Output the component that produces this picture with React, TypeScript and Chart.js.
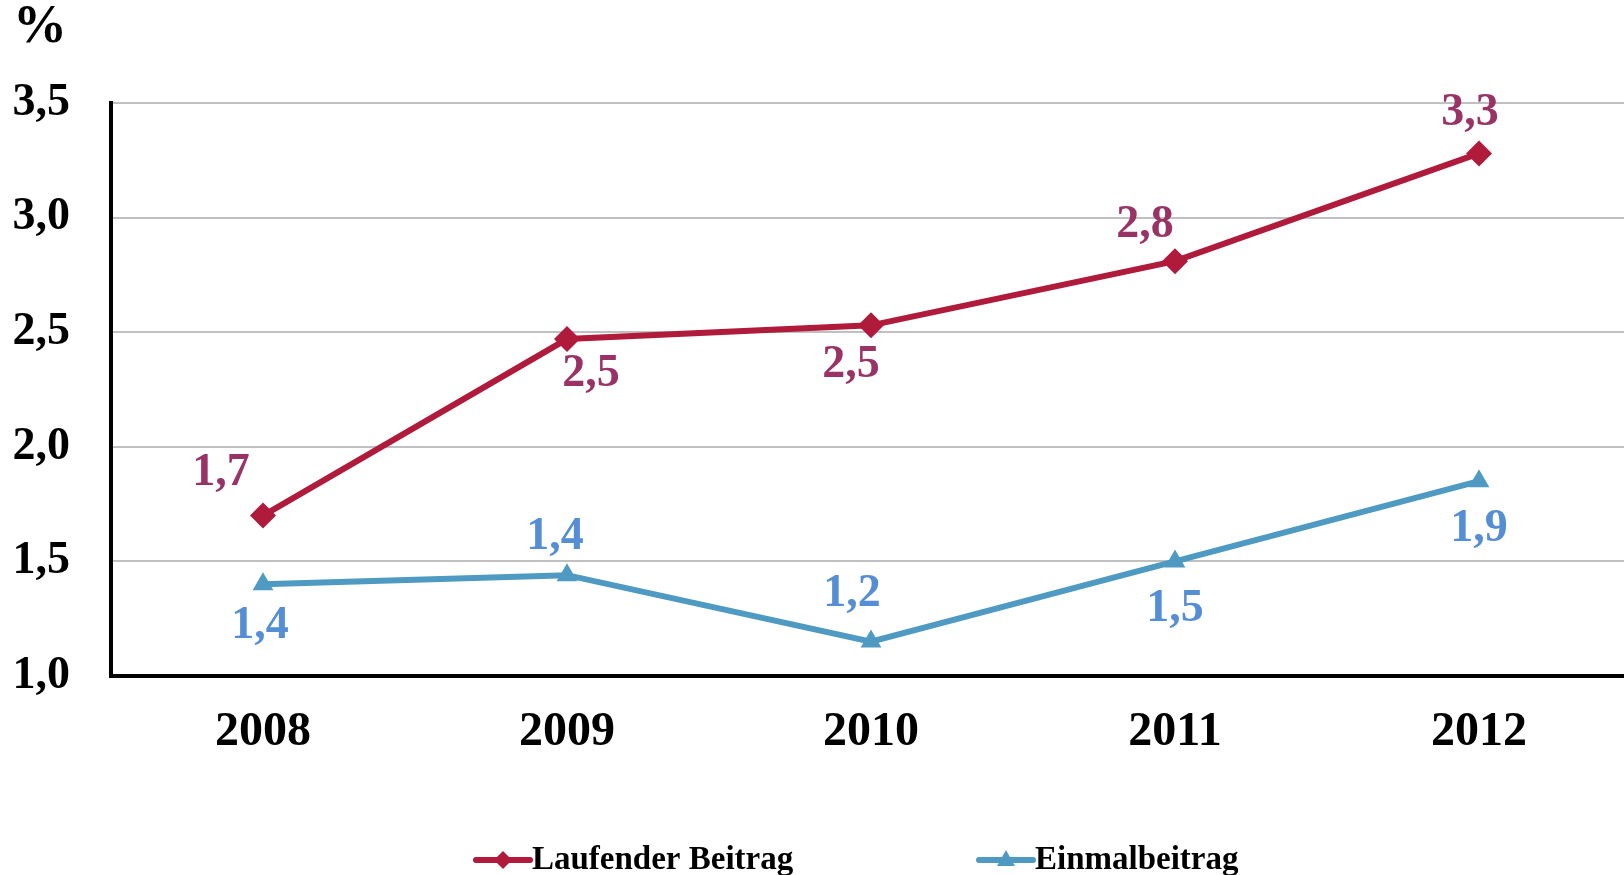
import React, { useEffect, useRef } from "react";
import { Chart, registerables } from "chart.js";

Chart.register(...registerables);

const years = ["2008", "2009", "2010", "2011", "2012"];
const laufenderValues = [1.7, 2.47, 2.53, 2.81, 3.28];
const einmalValues = [1.4, 1.44, 1.15, 1.5, 1.85];
const laufenderLabels = ["1,7", "2,5", "2,5", "2,8", "3,3"];
const einmalLabels = ["1,4", "1,4", "1,2", "1,5", "1,9"];
const seriesNames = ["Laufender Beitrag", "Einmalbeitrag"];
const yTicks = [1.0, 1.5, 2.0, 2.5, 3.0, 3.5];

const FONT = "'Liberation Serif', 'Times New Roman', serif";
const RED = "#B01A3B";
const BLUE = "#4E9AC2";
const RED_LABEL = "#993366";
const BLUE_LABEL = "#558ED5";

// label offsets relative to each point (px)
const redOffsets = [[-42, -42], [24, 35], [-20, 40], [-30, -36], [-9, -40]];
const blueOffsets = [[-3, 42], [-12, -38], [-19, -48], [0, 48], [0, 48]];

const extrasPlugin = {
  id: "extras",
  afterDatasetsDraw(chart: any) {
    const ctx = chart.ctx;
    ctx.save();
    ctx.textAlign = "center";
    ctx.textBaseline = "middle";
    ctx.font = `bold 46px ${FONT}`;
    const sets = [
      { labels: laufenderLabels, offs: redOffsets, color: RED_LABEL },
      { labels: einmalLabels, offs: blueOffsets, color: BLUE_LABEL },
    ];
    sets.forEach((s, di) => {
      const meta = chart.getDatasetMeta(di);
      ctx.fillStyle = s.color;
      meta.data.forEach((pt: any, i: number) => {
        ctx.fillText(s.labels[i], pt.x + s.offs[i][0], pt.y + s.offs[i][1]);
      });
    });
    // % unit
    ctx.fillStyle = "#000";
    ctx.font = `bold 54px ${FONT}`;
    ctx.fillText("%", 40, 28);

    // legend
    const items = [
      { x: 476, color: RED, style: "diamond", name: seriesNames[0] },
      { x: 979, color: BLUE, style: "triangle", name: seriesNames[1] },
    ];
    const ly = 860;
    items.forEach((it) => {
      ctx.strokeStyle = it.color;
      ctx.lineWidth = 6;
      ctx.lineCap = "round";
      ctx.beginPath();
      ctx.moveTo(it.x, ly);
      ctx.lineTo(it.x + 54, ly);
      ctx.stroke();
      ctx.fillStyle = it.color;
      const cx = it.x + 27;
      ctx.beginPath();
      if (it.style === "diamond") {
        ctx.moveTo(cx, ly - 9);
        ctx.lineTo(cx + 9, ly);
        ctx.lineTo(cx, ly + 9);
        ctx.lineTo(cx - 9, ly);
      } else {
        ctx.moveTo(cx, ly - 10);
        ctx.lineTo(cx + 9, ly + 6);
        ctx.lineTo(cx - 9, ly + 6);
      }
      ctx.closePath();
      ctx.fill();
      ctx.fillStyle = "#000";
      ctx.textAlign = "left";
      ctx.font = `bold 33px ${FONT}`;
      ctx.fillText(it.name, it.x + 56, ly);
    });
    ctx.restore();
  },
};

export default function App() {
  const ref = useRef<HTMLCanvasElement | null>(null);
  useEffect(() => {
    if (!ref.current) return;
    const chart = new Chart(ref.current, {
      type: "line",
      data: {
        labels: years,
        datasets: [
          {
            label: seriesNames[0],
            data: laufenderValues,
            borderColor: RED,
            backgroundColor: RED,
            borderWidth: 6,
            pointStyle: "rectRot",
            pointRadius: 13,
            pointHoverRadius: 13,
            pointBorderWidth: 0,
            tension: 0,
          },
          {
            label: seriesNames[1],
            data: einmalValues,
            borderColor: BLUE,
            backgroundColor: BLUE,
            borderWidth: 6,
            pointStyle: "triangle",
            pointRadius: 12,
            pointHoverRadius: 12,
            pointBorderWidth: 0,
            tension: 0,
          },
        ],
      },
      options: {
        responsive: false,
        animation: false,
        layout: { autoPadding: false, padding: { top: 103, left: 0, right: 0, bottom: 0 } },
        plugins: {
          legend: { display: false },
          tooltip: { enabled: false },
        },
        scales: {
          x: {
            offset: true,
            grid: { display: false, drawTicks: false },
            border: { color: "#000", width: 4 },
            ticks: {
              color: "#000",
              font: { family: FONT, size: 48, weight: "bold" },
              padding: 28,
            },
            afterFit(scale: any) {
              scale.height = 199;
            },
          },
          y: {
            min: 1,
            max: 3.5,
            afterBuildTicks(scale: any) {
              scale.ticks = yTicks.map((v) => ({ value: v }));
            },
            grid: { color: "#C0C0C0", lineWidth: 2, drawTicks: false },
            border: { color: "#000", width: 4 },
            ticks: {
              color: "#000",
              font: { family: FONT, size: 46, weight: "bold" },
              padding: 41,
              callback: (v: any) => Number(v).toFixed(1).replace(".", ","),
            },
            afterFit(scale: any) {
              scale.width = 111;
            },
          },
        },
      },
      plugins: [extrasPlugin],
    });
    return () => chart.destroy();
  }, []);
  return (
    <div
      style={{
        position: "fixed",
        left: 0,
        top: 0,
        width: 1624,
        height: 875,
        overflow: "hidden",
        background: "#fff",
      }}
    >
      <canvas ref={ref} width={1631} height={875} style={{ display: "block" }} />
    </div>
  );
}
